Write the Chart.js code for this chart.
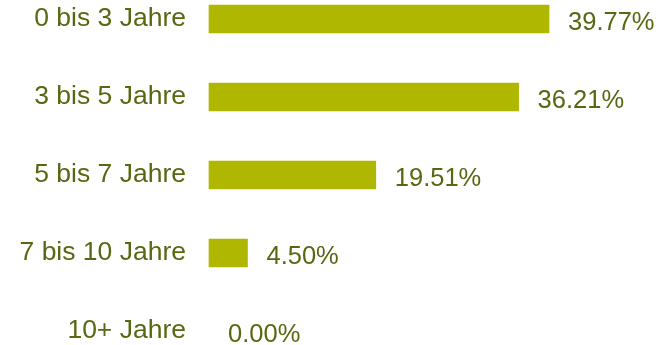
<!DOCTYPE html>
<html>
<head>
<meta charset="utf-8">
<script src="https://cdn.jsdelivr.net/npm/chart.js@4/dist/chart.umd.min.js"></script>
<style>
  html, body { margin: 0; padding: 0; background: #ffffff; }
  #wrap { width: 664px; height: 345px; }
</style>
</head>
<body>
<div id="wrap"><canvas id="c" width="664" height="345"></canvas></div>
<script>
// Laufzeitverteilung
const categories = ['0 bis 3 Jahre', '3 bis 5 Jahre', '5 bis 7 Jahre', '7 bis 10 Jahre', '10+ Jahre'];
const shares = [39.77, 36.21, 19.51, 4.50, 0.00];
const valueLabels = ['39.77%', '36.21%', '19.51%', '4.50%', '0.00%'];

const BAR_COLOR = '#afb700';
const TEXT_COLOR = '#566811';
const FAMILY = '"Liberation Sans", Arial, sans-serif';
const TICK_FONT = { family: FAMILY, size: 26.5 };
const VALUE_FONT_SIZE = 25.5;

// writes the percentage to the right of each bar
const valueLabelPlugin = {
  id: 'valueLabels',
  afterDatasetsDraw(chart) {
    const ctx = chart.ctx;
    const meta = chart.getDatasetMeta(0);
    ctx.save();
    ctx.font = VALUE_FONT_SIZE + 'px ' + FAMILY;
    ctx.fillStyle = TEXT_COLOR;
    ctx.textAlign = 'left';
    ctx.textBaseline = 'middle';
    meta.data.forEach((bar, i) => {
      ctx.fillText(valueLabels[i], bar.x + 19, bar.y + 4);
    });
    ctx.restore();
  }
};

new Chart(document.getElementById('c'), {
  type: 'bar',
  data: {
    labels: categories,
    datasets: [{
      data: shares,
      backgroundColor: (c) => (c.raw > 0 ? BAR_COLOR : 'rgba(0,0,0,0)'),
      borderWidth: 0,
      barThickness: 28,
      clip: false
    }]
  },
  options: {
    indexAxis: 'y',
    responsive: false,
    animation: false,
    layout: { padding: { top: 19, bottom: 14, left: 0, right: 70.25 } },
    plugins: {
      legend: { display: false },
      tooltip: { enabled: false }
    },
    scales: {
      x: {
        display: false,
        min: 0,
        max: 45
      },
      y: {
        offset: false,
        grid: { display: false, drawTicks: false },
        border: { display: false },
        ticks: {
          color: TEXT_COLOR,
          font: TICK_FONT,
          padding: 23
        },
        afterFit(scale) {
          scale.width = 209;
          scale.paddingTop = 0;
          scale.paddingBottom = 0;
        }
      }
    }
  },
  plugins: [valueLabelPlugin]
});
</script>
</body>
</html>
